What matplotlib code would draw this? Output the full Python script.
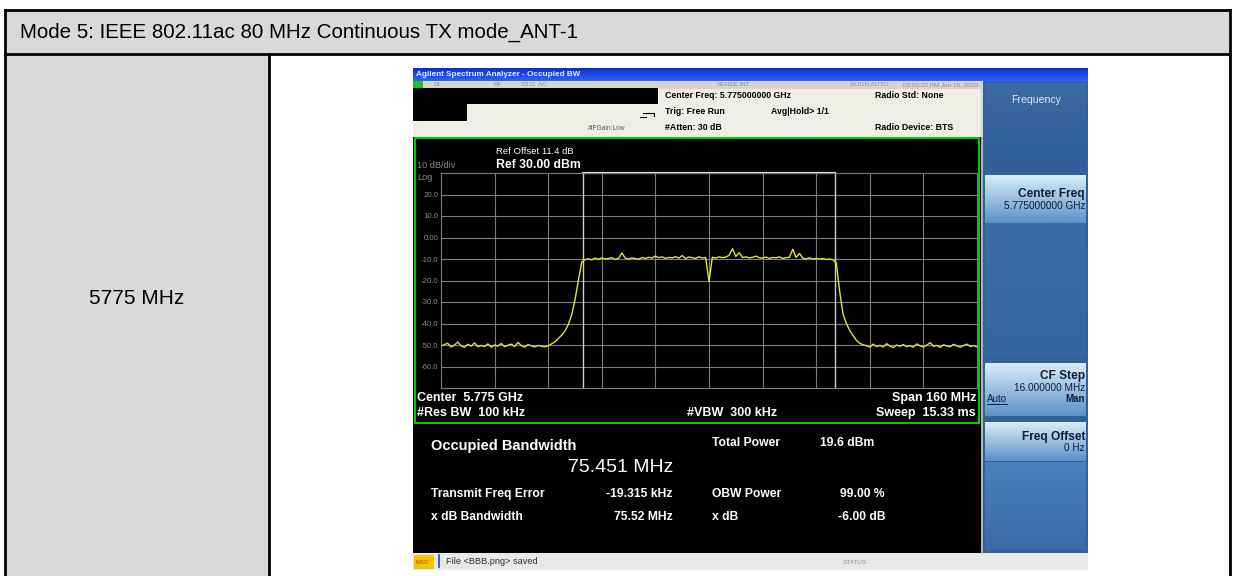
import numpy as np
import matplotlib
matplotlib.use('Agg')
import matplotlib.pyplot as plt
from matplotlib.patches import Rectangle
from matplotlib.colors import to_rgb

plt.rcParams['font.family'] = ['Liberation Sans', 'DejaVu Sans']

# ---- data ----
header_text = 'Mode 5: IEEE 802.11ac 80 MHz Continuous TX mode_ANT-1'
row_label = '5775 MHz'

freq_mhz = np.arange(-80, 81)  # offset from centre, 1 MHz steps
floor_left = [-50.6, -49.8, -49.2, -50.9, -50.1, -48.6, -50.4, -51.1, -49.7, -50.5,
              -49.0, -50.8, -50.2, -50.7, -49.5, -51.0, -50.0, -50.5, -49.3, -50.8,
              -50.1, -49.6, -50.7, -48.8, -50.3, -51.0, -49.8, -50.4, -50.9, -50.2,
              -50.6, -50.8, -50.4]
rise_left = [-49.5, -48.5, -47.0, -45.5, -43.5, -40.5, -36.0, -29.0, -20.0, -11.5]
plateau_left = [-10.3, -9.9, -10.4, -9.6, -10.1, -9.5, -10.0, -9.8, -9.4, -10.2,
                -9.7, -7.2, -9.6, -10.0, -9.5, -9.8, -10.1, -9.3, -9.7, -9.2,
                -9.6, -8.6, -9.4, -9.0, -9.7, -9.3, -9.5, -8.9, -9.6, -8.4,
                -9.8, -9.1, -9.4, -9.7, -9.0, -9.5, -9.3]
dip_centre = [-20.5]
plateau_right = [-9.2, -9.6, -9.0, -9.4, -9.1, -8.3, -5.2, -8.8, -7.1, -9.3,
                 -9.0, -9.5, -9.2, -8.7, -9.4, -9.6, -9.1, -9.8, -9.3, -9.5,
                 -9.0, -9.7, -9.4, -9.2, -5.5, -9.3, -7.4, -9.6, -9.9, -9.5,
                 -10.0, -9.7, -10.1, -9.8, -10.2, -10.0, -10.4]
fall_right = [-11.8, -25.0, -35.5, -40.0, -43.2, -45.6, -47.8, -49.2, -49.9]
floor_right = [-50.3, -51.0, -49.6, -50.7, -50.2, -50.9, -49.4, -50.5, -51.2, -50.0,
               -50.6, -49.8, -50.8, -50.3, -51.0, -49.5, -50.4, -50.9, -50.1, -48.9,
               -50.6, -50.2, -51.1, -49.9, -50.5, -50.8, -49.7, -50.4, -51.0, -50.2,
               -49.6, -50.7, -50.3, -50.9]
level_dbm = (floor_left + rise_left + plateau_left + dip_centre +
             plateau_right + fall_right + floor_right)

obw_edges = [-37.7, 37.7]
ytick_vals = [20, 10, 0, -10, -20, -30, -40, -50, -60]
ytick_labels = ['20.0', '10.0', '0.00', '-10.0', '-20.0', '-30.0', '-40.0', '-50.0', '-60.0']

res_left = [('Transmit Freq Error', '-19.315 kHz'), ('x dB Bandwidth', '75.52 MHz')]
res_right = [('OBW Power', '99.00 %'), ('x dB', '-6.00 dB')]

# ---- figure in pixel coordinates ----
fig = plt.figure(figsize=(12.34, 5.76), dpi=100)
ax = fig.add_axes([0, 0, 1, 1])


def box(x0, y0, x1, y1, fc, ec='none', lw=0, z=1):
    ax.add_patch(Rectangle((x0, y0), x1 - x0, y1 - y0, facecolor=fc,
                           edgecolor=ec, linewidth=lw, zorder=z))


def grad(x0, y0, x1, y1, c0, c1, z=2):
    t = np.linspace(0, 1, 64)[:, None, None]
    img = np.array(to_rgb(c0)) * (1 - t) + np.array(to_rgb(c1)) * t
    ax.imshow(img, extent=(x0, x1, y1, y0), aspect='auto',
              interpolation='bilinear', zorder=z)


def txt(x, y, s, size=5.5, color='white', bold=True, ha='left', z=6, **kw):
    ax.text(x, y, s, fontsize=size, color=color, ha=ha, va='center',
            fontweight='bold' if bold else 'normal', zorder=z, **kw)


# table
box(5, 10, 1230, 54, '#d9d9d9')
box(5, 54, 269, 576, '#d9d9d9')
for xs, ys in [([5, 1230], [10, 10]), ([5, 1230], [54, 54]),
               ([5, 5], [10, 576]), ([1230, 1230], [10, 576]),
               ([269, 269], [54, 576])]:
    ax.plot(xs, ys, color='black', lw=2, zorder=3, solid_capstyle='projecting')
ax.text(20, 32, header_text, fontsize=14.8, va='center')
ax.text(137, 298, row_label, fontsize=15, va='center', ha='center')

# analyzer screenshot frame
box(413, 68, 1088, 570, 'black', z=2)
grad(413, 68, 1088, 81, '#0c2fc8', '#2d63ff', z=3)
txt(416, 74.5, 'Agilent Spectrum Analyzer - Occupied BW', size=5.9, color='#e6ecff')
box(413, 81, 983, 89, '#d6d4cc', z=3)
box(413, 81, 423, 88, '#20c020', z=4)
for x, s in [(434, 'RL'), (493, 'RF'), (521, '50 \u03a9  AC'), (717, 'SENSE:INT'),
             (850, 'ALIGN AUTO')]:
    txt(x, 85, s, size=4.6, color='#8c8c88', bold=False)
txt(978, 85, '02:50:33 PM Jun 16, 2020', size=4.6, color='#8c8c88', bold=False, ha='right')
box(413, 89, 983, 137, '#efeee6', z=3)
box(413, 88, 658, 104, 'black', z=4)
box(413, 104, 467, 121, 'black', z=4)
txt(665, 96, 'Center Freq: 5.775000000 GHz', size=6.3, color='black')
txt(665, 112, 'Trig: Free Run', size=6.3, color='black')
txt(771, 112, 'Avg|Hold> 1/1', size=6.3, color='black')
txt(665, 128, '#Atten: 30 dB', size=6.3, color='black')
txt(588, 129, '#IFGain:Low', size=4.8, color='#555555', bold=False)
txt(875, 96, 'Radio Std: None', size=6.3, color='black')
txt(875, 128, 'Radio Device: BTS', size=6.3, color='black')
ax.plot([643, 654, 654], [113, 113, 116], color='black', lw=0.8, zorder=5)
ax.plot([640, 646], [117, 117], color='black', lw=0.8, zorder=5)

# plot panel
box(415, 138, 979, 423, 'black', ec='#00e000', lw=1.3, z=4)
txt(496, 152, 'Ref Offset 11.4 dB', size=6.8, bold=False)
txt(496, 165, 'Ref 30.00 dBm', size=8.8)
txt(417, 166, '10 dB/div', size=6.6, color='#8a8a8a', bold=False)
txt(417, 177, 'Log', size=6.6, color='#8a8a8a', bold=False)
txt(417, 398, 'Center  5.775 GHz', size=9)
txt(417, 413, '#Res BW  100 kHz', size=9)
txt(777, 413, '#VBW  300 kHz', size=9, ha='right')
txt(976, 398, 'Span 160 MHz', size=9, ha='right')
txt(976, 413, 'Sweep  15.33 ms', size=9, ha='right')

# results
txt(431, 446, 'Occupied Bandwidth', size=10.5)
txt(673, 467, '%.3f MHz' % 75.451, size=14, bold=False, ha='right')
txt(712, 443, 'Total Power', size=8.7)
txt(820, 443, '19.6 dBm', size=8.7)
for (k, v), y in zip(res_left, [494, 517]):
    txt(431, y, k, size=8.7)
    txt(673, y, v, size=8.7, ha='right')
for (k, v), y in zip(res_right, [494, 517]):
    txt(712, y, k, size=8.7)
    txt(885, y, v, size=8.7, ha='right')

# softkey panel
ax.plot([982, 982], [84, 553], color='#d8d8d0', lw=1.2, zorder=4)
box(983, 81, 1088, 553, '#32619c', z=3)
grad(985, 83, 1086, 170, '#3d6aa2', '#2f5d98', z=4)
txt(1036, 100, 'Frequency', size=7.6, color='#dce6f2', ha='center', bold=False)
for y0, y1 in [(175, 223), (363, 416), (422, 461)]:
    grad(985, y0, 1086, y1, '#d8eef8', '#5b92c8', z=4)
grad(985, 223, 1086, 358, '#3b6ca8', '#3466a0', z=4)
grad(985, 462, 1086, 550, '#4a80bc', '#3a6aa8', z=4)
dk = '#0e1c3a'
txt(1085, 194, 'Center Freq', size=8.6, color=dk, ha='right')
txt(1085, 206, '5.775000000 GHz', size=7.2, color=dk, ha='right', bold=False)
txt(1085, 376, 'CF Step', size=8.6, color=dk, ha='right')
txt(1085, 388, '16.000000 MHz', size=7.2, color=dk, ha='right', bold=False)
txt(987, 399, 'Auto', size=7.0, color=dk, bold=False)
ax.plot([987, 1007], [404, 404], color=dk, lw=0.7, zorder=6)
txt(1085, 399, 'Man', size=7.0, color=dk, ha='right')
txt(1085, 437, 'Freq Offset', size=8.6, color=dk, ha='right')
txt(1085, 448, '0 Hz', size=7.2, color=dk, ha='right', bold=False)

# bottom status bar
box(413, 553, 1088, 570, '#e8e8e4', z=3)
box(414, 555, 434, 569, '#f2c400', z=4)
txt(416, 562, 'MSG', size=4.2, color='#c04000', bold=False)
ax.plot([439, 439], [555, 567], color='#2040d0', lw=1.2, zorder=5)
txt(446, 562, 'File <BBB.png> saved', size=6.6, color='#303030', bold=False)
txt(843, 562, 'STATUS', size=4.6, color='#909090', bold=False)

ax.set_xlim(0, 1234)
ax.set_ylim(576, 0)
ax.axis('off')

# spectrum graticule
gx0, gx1, gy0, gy1 = 441, 977, 173, 388
gax = fig.add_axes([gx0 / 1234, 1 - gy1 / 576, (gx1 - gx0) / 1234, (gy1 - gy0) / 576])
gax.set_facecolor('black')
gax.set_xlim(-80, 80)
gax.set_ylim(-70, 30)
gax.set_xticks(np.arange(-64, 65, 16))
gax.set_yticks(ytick_vals, ytick_labels)
gax.grid(True, color='#7c7c7c', lw=0.8)
gax.tick_params(length=0, labelbottom=False, labelsize=5.6, labelcolor='#8a8a8a', pad=2)
for sp in gax.spines.values():
    sp.set_color('#7c7c7c')
    sp.set_linewidth(0.8)
for e in obw_edges:
    gax.axvline(e, color='#cfcfcf', lw=1.0)
gax.plot(obw_edges, [30, 30], color='#dcdcdc', lw=1.6, clip_on=False)
gax.plot(freq_mhz, level_dbm, color='#e2e62a', lw=1.0)

fig.savefig('out.png', dpi=100)
